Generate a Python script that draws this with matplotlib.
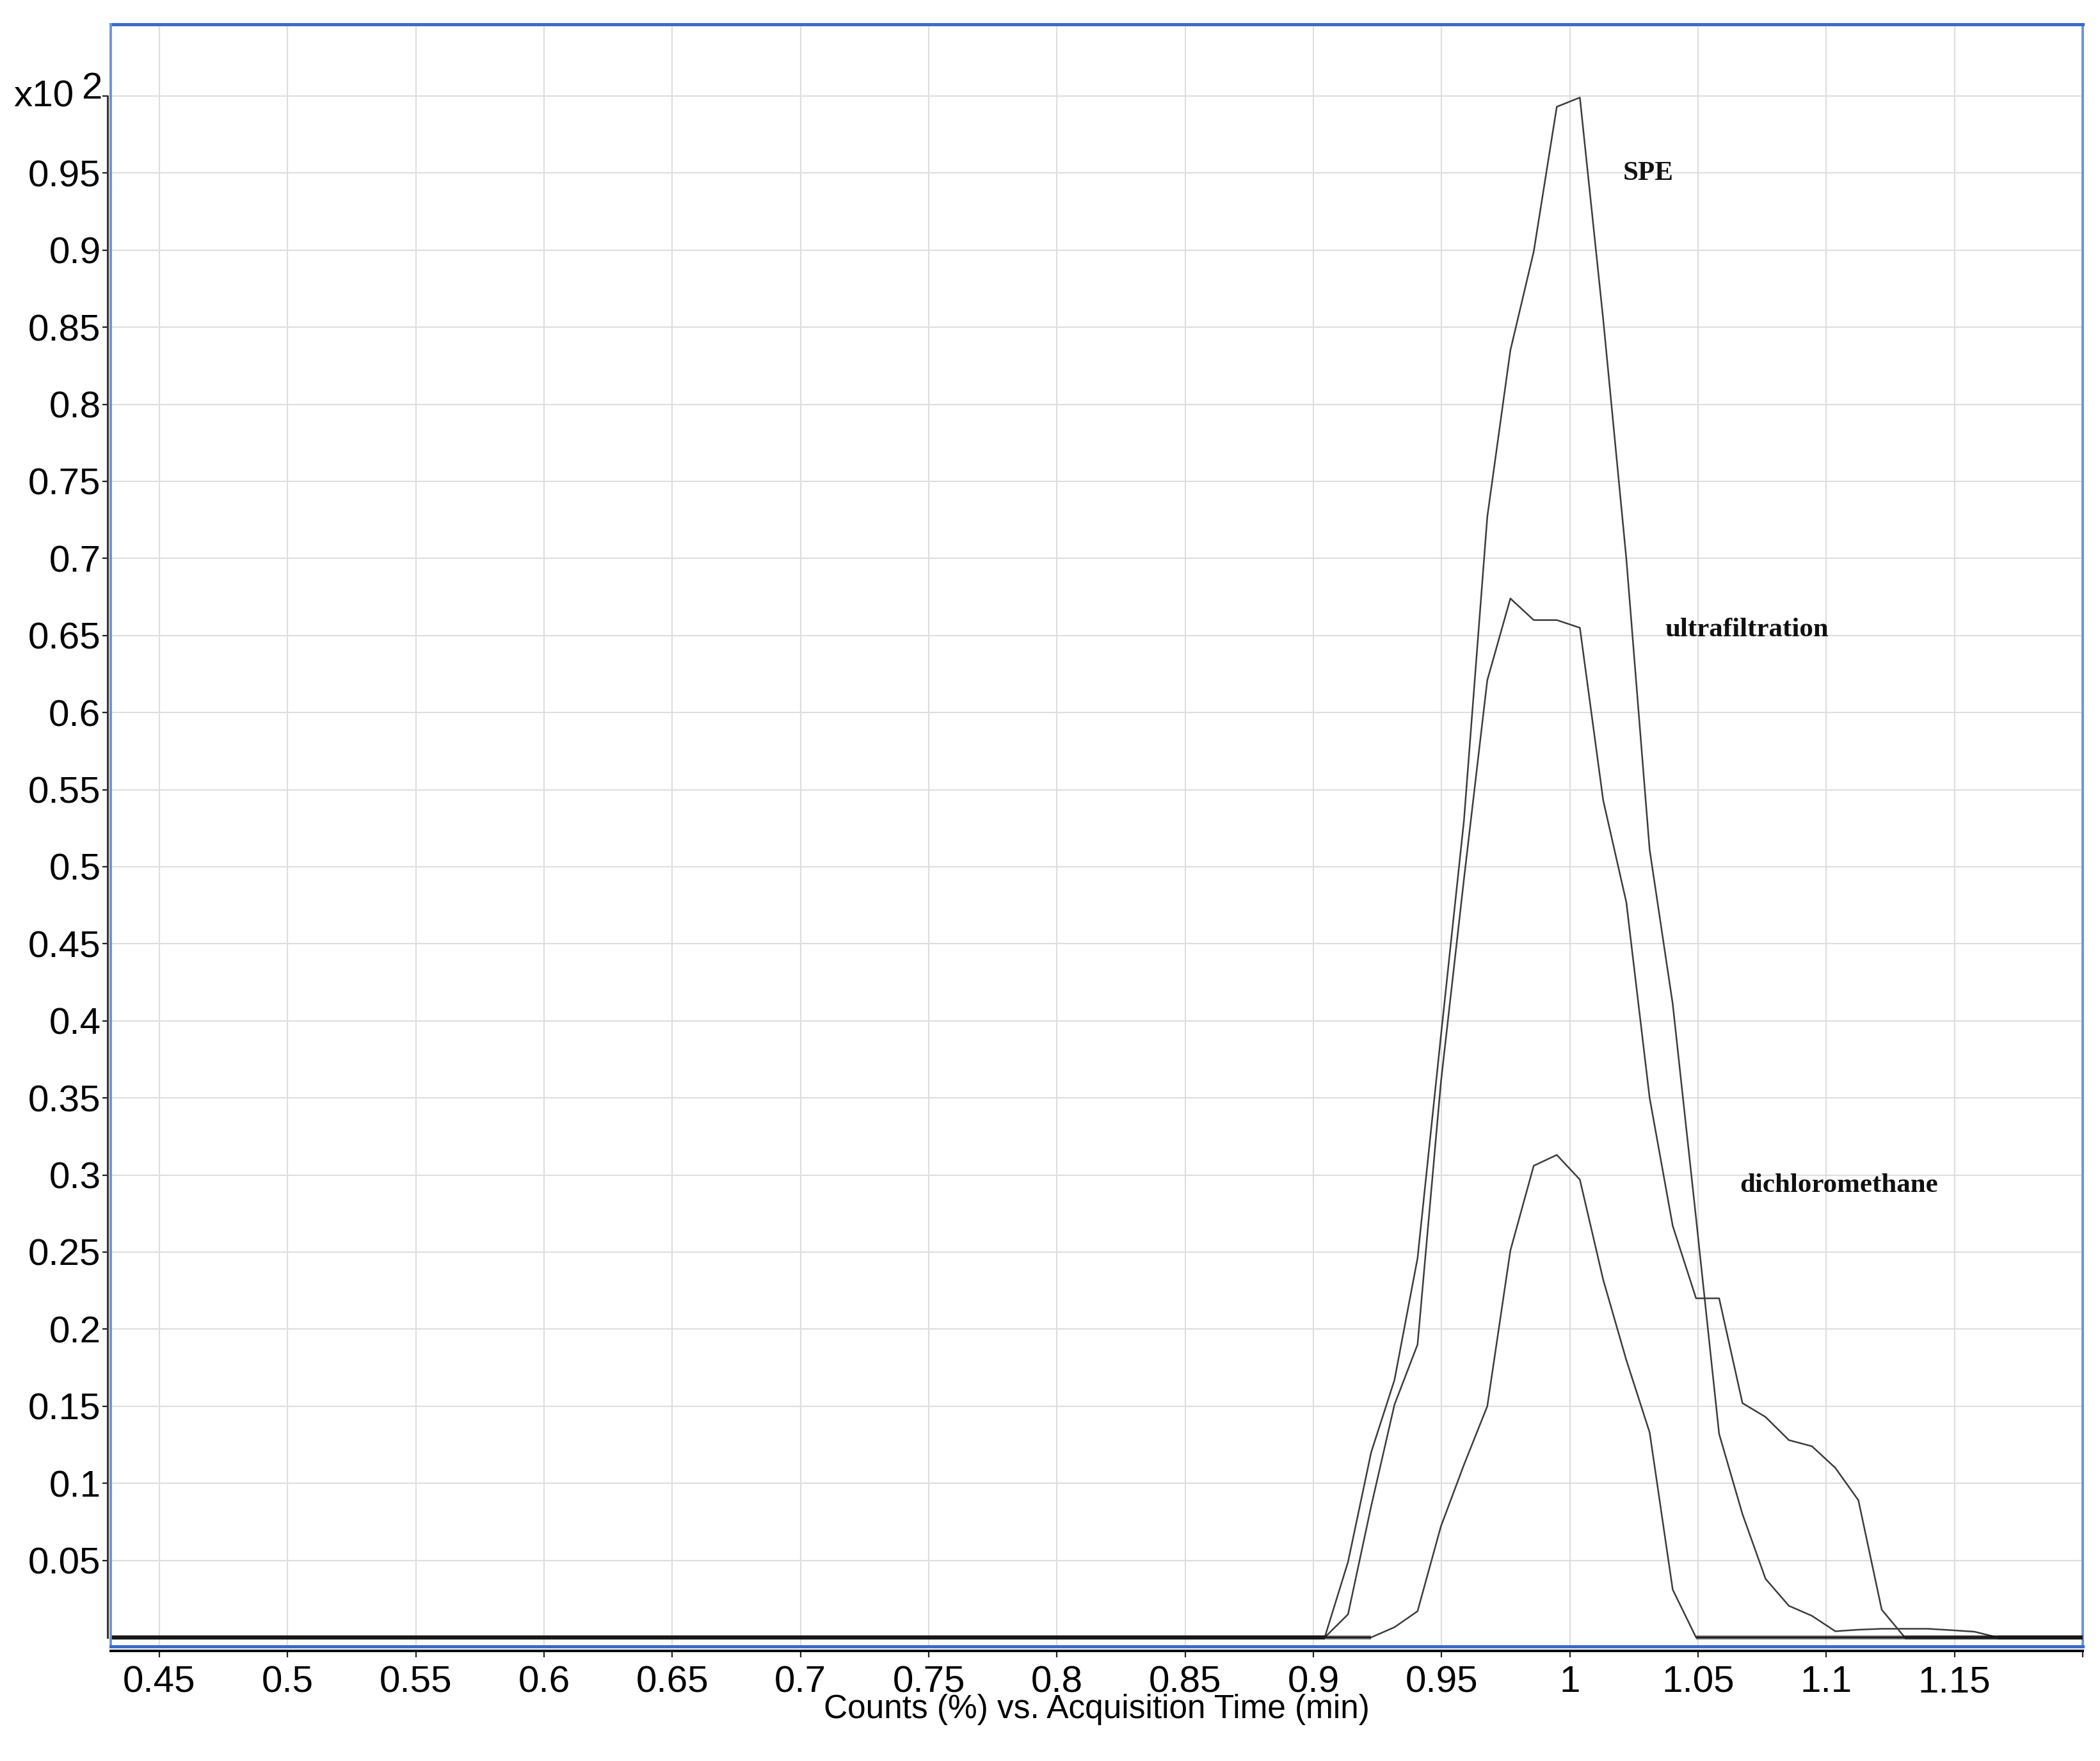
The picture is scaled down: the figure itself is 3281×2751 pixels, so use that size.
import matplotlib
matplotlib.use("Agg")
import matplotlib.pyplot as plt
import numpy as np

plt.rcParams['font.family'] = ['Liberation Sans Narrow', 'Liberation Sans', 'DejaVu Sans']

# retention time (min) of each scan
time_min = [0.43, 0.9044, 0.9135, 0.9225, 0.9316, 0.9406, 0.9497, 0.9587, 0.9678, 0.9768,
            0.9859, 0.9949, 1.0039, 1.0130, 1.0220, 1.0311, 1.0401, 1.0492, 1.0582, 1.0673,
            1.0763, 1.0854, 1.0944, 1.1035, 1.1125, 1.1216, 1.1306, 1.1397, 1.1487, 1.1578,
            1.1668, 1.20]

# counts (x10^2 %)
spe = [0, 0, 0.049, 0.12, 0.167, 0.246, 0.39, 0.53, 0.727, 0.835,
       0.899, 0.993, 0.999, 0.855, 0.70, 0.511, 0.411, 0.272, 0.132, 0.080,
       0.038, 0.0205, 0.014, 0.004, 0.005, 0.0056, 0.0056, 0.0056, 0.0047, 0.0037,
       0, 0]
ultrafiltration = [0, 0, 0.015, 0.085, 0.151, 0.19, 0.36, 0.492, 0.621, 0.674,
                   0.66, 0.66, 0.655, 0.543, 0.477, 0.35, 0.267, 0.22, 0.22, 0.152,
                   0.143, 0.128, 0.124, 0.110, 0.089, 0.018, 0, 0, 0, 0,
                   0, 0]
dichloromethane = [0, 0, 0, 0, 0.0066, 0.017, 0.072, 0.112, 0.15, 0.251,
                   0.306, 0.313, 0.297, 0.232, 0.18, 0.133, 0.031, 0, 0, 0,
                   0, 0, 0, 0, 0, 0, 0, 0, 0, 0,
                   0, 0]

series_names = ["SPE", "ultrafiltration", "dichloromethane"]
label_x = [1.0208, 1.037, 1.0663]
label_y = [0.9456, 0.6495, 0.289]

x_ticks = [0.45, 0.5, 0.55, 0.6, 0.65, 0.7, 0.75, 0.8, 0.85, 0.9, 0.95, 1.0, 1.05, 1.1, 1.15, 1.2]
x_tick_labels = ["0.45", "0.5", "0.55", "0.6", "0.65", "0.7", "0.75", "0.8", "0.85", "0.9",
                 "0.95", "1", "1.05", "1.1", "1.15", ""]
y_ticks = [0.05, 0.1, 0.15, 0.2, 0.25, 0.3, 0.35, 0.4, 0.45, 0.5, 0.55, 0.6, 0.65, 0.7,
           0.75, 0.8, 0.85, 0.9, 0.95, 1.0]
y_tick_labels = ["0.05", "0.1", "0.15", "0.2", "0.25", "0.3", "0.35", "0.4", "0.45", "0.5",
                 "0.55", "0.6", "0.65", "0.7", "0.75", "0.8", "0.85", "0.9", "0.95", ""]

blue = "#3a6bc8"
blue_light = "#6d94d8"

fig = plt.figure(figsize=(32.81, 27.51), dpi=100)
ax = fig.add_axes([0.0527, 0.0651, 0.9391, 0.9211])

t = np.array(time_min)
for ys in [spe, ultrafiltration, dichloromethane]:
    ys = np.array(ys)
    ax.plot(t, ys, color="#3c3c3c", lw=1.8, zorder=3)
    # flat zero parts look thick because the traces pile up there
    ax.plot(t, np.where(ys == 0, 0.0, np.nan), color="black", alpha=0.55, lw=4.5,
            solid_capstyle="butt", zorder=3)

for name, lx, ly in zip(series_names, label_x, label_y):
    ax.text(lx, ly, name, ha="left", va="baseline", fontsize=31, fontweight="bold",
            family=["Liberation Serif", "DejaVu Serif"], color="#111111")

ax.set_xlim(0.431, 1.2)
ax.set_ylim(-0.0058, 1.0465)
ax.set_xticks(x_ticks)
ax.set_xticklabels(x_tick_labels)
ax.set_yticks(y_ticks)
ax.set_yticklabels(y_tick_labels)

ax.grid(True, color="#dedede", lw=1.5)
ax.set_axisbelow(True)

# frame: blue box, black axis lines just outside
ax.spines["top"].set_color(blue)
ax.spines["top"].set_linewidth(3.6)
ax.spines["right"].set_color(blue_light)
ax.spines["right"].set_linewidth(2.8)
ax.spines["left"].set_color("#333333")
ax.spines["left"].set_linewidth(2.2)
ax.spines["left"].set_position(("outward", 3.6))
ax.spines["left"].set_bounds(0, 1.0)
ax.spines["bottom"].set_color("black")
ax.spines["bottom"].set_linewidth(2.8)
ax.spines["bottom"].set_position(("outward", 5))
ax.plot([0, 0], [0, 1], transform=ax.transAxes, color=blue_light, lw=2.8, clip_on=False, zorder=5)
ax.plot([0, 1], [0, 0], transform=ax.transAxes, color=blue, lw=3.6, clip_on=False, zorder=5)

ax.tick_params(axis="y", direction="out", length=5.5, width=1.6, pad=2, labelsize=42, colors="#222222")
ax.tick_params(axis="x", direction="out", length=7, width=1.6, pad=9, labelsize=42, colors="#222222")
ax.tick_params(labelcolor="black")

# exponent label at the top of the y axis
yt = ax.get_yaxis_transform()
ax.text(-0.0188, 0.993, "x10", transform=yt, ha="right", va="baseline", fontsize=42, clip_on=False)
ax.text(-0.0150, 0.9985, "2", transform=yt, ha="left", va="baseline", fontsize=42, clip_on=False)

ax.set_xlabel("Counts (%) vs. Acquisition Time (min)", fontsize=37)
ax.xaxis.set_label_coords(0.5, -0.039)
ax.xaxis.label.set_va("center")

fig.savefig("out.png", dpi=100)
